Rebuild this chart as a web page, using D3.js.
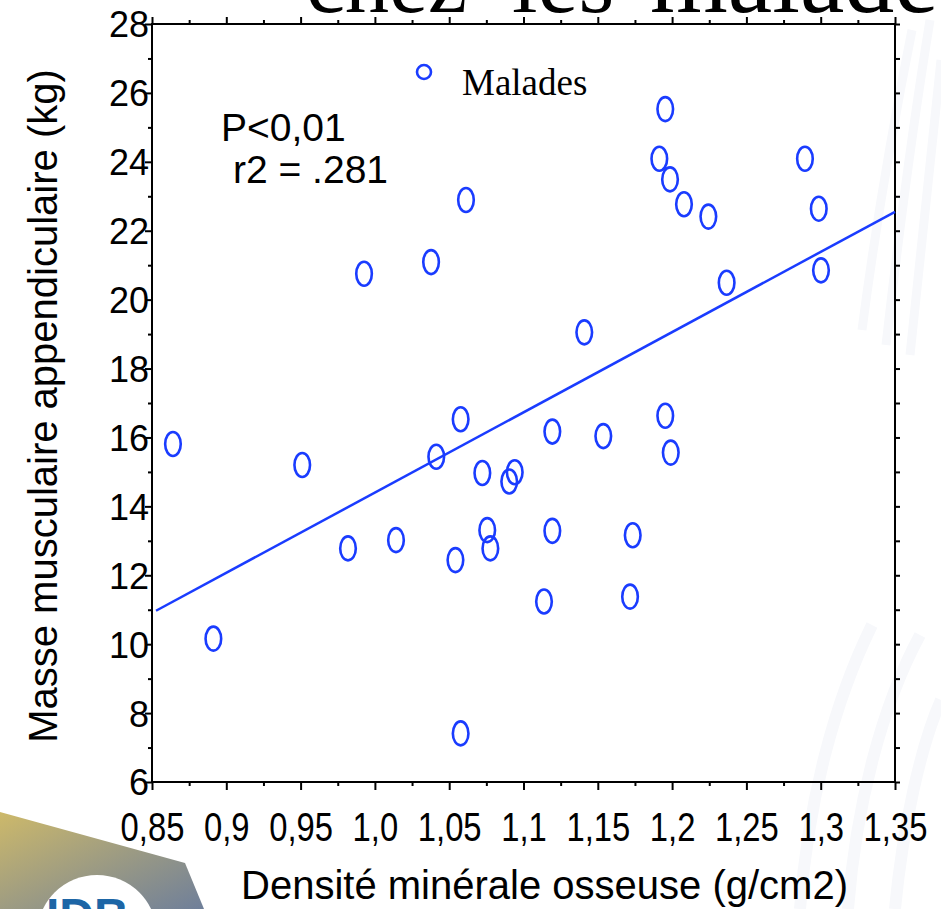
<!DOCTYPE html>
<html>
<head>
<meta charset="utf-8">
<script src="https://cdn.jsdelivr.net/npm/d3@7"></script>
<style>
  body { margin: 0; background: #ffffff; }
  svg { display: block; }
</style>
</head>
<body>
<div id="chart"></div>
<script>
// densité minérale osseuse (g/cm2) vs masse musculaire appendiculaire (kg), malades
var bmd = [1.1954, 1.1914, 1.2894, 1.1986, 1.0613, 1.2080, 1.2244, 1.2987, 1.0378, 0.9927,
           1.3002, 1.2367, 1.1409, 0.8641, 1.0577, 1.1954, 1.1194, 1.1537, 1.1991, 1.0413,
           0.9511, 1.0723, 1.0941, 1.0904, 1.0756, 1.0777, 1.1194, 1.1735, 1.0142, 0.9819,
           1.0542, 1.1138, 1.1717, 0.8913, 1.0577];
var muscle = [25.53, 24.09, 24.09, 23.49, 22.89, 22.77, 22.41, 22.64, 21.09, 20.75,
              20.85, 20.49, 19.05, 15.81, 16.53, 16.63, 16.17, 16.04, 15.56, 15.44,
              15.20, 14.97, 14.99, 14.72, 13.31, 12.78, 13.29, 13.16, 13.02, 12.78,
              12.44, 11.24, 11.38, 10.16, 7.41];

// droite de régression
var fitX = [0.8527, 1.35];
var fitY = [10.97, 22.55];

var xTicks = [0.85, 0.9, 0.95, 1.0, 1.05, 1.1, 1.15, 1.2, 1.25, 1.3, 1.35];
var xTickLabels = ['0,85', '0,9', '0,95', '1,0', '1,05', '1,1', '1,15', '1,2', '1,25', '1,3', '1,35'];
var yTicks = [6, 8, 10, 12, 14, 16, 18, 20, 22, 24, 26, 28];
var yTicksAll = [6, 7, 8, 9, 10, 11, 12, 13, 14, 15, 16, 17, 18, 19, 20, 21, 22, 23, 24, 25, 26, 27, 28];

var titleWords = ['chez', 'les', 'malades'];

(function() {
  var blue = '#1a3cff';
  var width = 941, height = 909;
  var plotLeft = 152, plotRight = 895, plotTop = 24, plotBottom = 782;

  var svg = d3.select('#chart')
    .append('svg')
    .attr('width', width)
    .attr('height', height);

  // fond : filigrane et logo
  var defs = svg.append('defs');
  var grad = defs.append('linearGradient')
    .attr('id', 'logo-grad')
    .attr('x1', '0%').attr('y1', '0%')
    .attr('x2', '100%').attr('y2', '100%');
  grad.append('stop').attr('offset', '0%').attr('stop-color', '#cdb96a');
  grad.append('stop').attr('offset', '100%').attr('stop-color', '#6f7f9a');

  var bg = svg.append('g').attr('class', 'background');
  bg.append('path')
    .attr('d', 'M912,30 C892,130 875,230 862,330 M930,20 C912,130 898,240 886,345 M941,60 C930,160 920,260 910,355')
    .attr('fill', 'none')
    .attr('stroke', '#f7f8fb')
    .attr('stroke-width', 9);
  bg.append('path')
    .attr('d', 'M800,909 C808,800 835,700 872,625 M848,909 C856,805 882,705 920,635 M895,909 C903,825 921,745 941,700')
    .attr('fill', 'none')
    .attr('stroke', '#f7f8fb')
    .attr('stroke-width', 12);

  bg.append('path')
    .attr('d', 'M0,812 L185,863 L204,909 L0,909 Z')
    .attr('fill', 'url(#logo-grad)');
  bg.append('circle')
    .attr('cx', 97).attr('cy', 935).attr('r', 60)
    .attr('fill', '#ffffff');
  bg.append('text')
    .attr('x', 46).attr('y', 932)
    .attr('font-family', 'Liberation Sans, Arial, sans-serif')
    .attr('font-weight', 'bold')
    .attr('font-size', 48)
    .attr('fill', '#1d66a6')
    .text('IDB');

  // titre de la diapo, coupé en haut
  var titleX = [306, 512, 650];
  var titleSize = [88, 92, 100];
  svg.append('g')
    .selectAll('text')
    .data(titleWords)
    .enter()
    .append('text')
    .attr('x', function(d, i) { return titleX[i]; })
    .attr('y', 12)
    .attr('font-family', 'Liberation Serif, Times New Roman, serif')
    .attr('font-size', function(d, i) { return titleSize[i]; })
    .attr('fill', '#000')
    .text(function(d) { return d; });

  var x = d3.scaleLinear().domain([0.85, 1.35]).range([plotLeft, plotRight]);
  var y = d3.scaleLinear().domain([6, 28]).range([plotBottom, plotTop]);

  var xMinor = xTicks.slice(1).map(function(v, i) { return (v + xTicks[i]) / 2; });
  var yMinor = yTicksAll.filter(function(v) { return yTicks.indexOf(v) == -1; });

  var styleAxis = function(g) {
    g.select('.domain').remove();
    g.selectAll('.tick line').attr('stroke', '#000').attr('stroke-width', 2);
  };

  // axe du bas
  svg.append('g')
    .attr('transform', 'translate(0,' + plotBottom + ')')
    .call(d3.axisBottom(x).tickValues(xMinor).tickSize(4).tickFormat(''))
    .call(styleAxis);
  var xAxis = svg.append('g')
    .attr('transform', 'translate(0,' + plotBottom + ')')
    .call(d3.axisBottom(x).tickValues(xTicks).tickSize(8).tickFormat(function(d, i) { return xTickLabels[i]; }))
    .call(styleAxis);
  xAxis.selectAll('.tick text')
    .attr('y', 59)
    .attr('dy', null)
    .attr('transform', 'scale(0.82,1)')
    .attr('fill', '#000')
    .attr('font-family', 'Liberation Sans, Arial, sans-serif')
    .attr('font-size', 40);

  // axe du haut
  svg.append('g')
    .attr('transform', 'translate(0,' + plotTop + ')')
    .call(d3.axisTop(x).tickValues(xMinor).tickSize(4).tickFormat(''))
    .call(styleAxis);
  svg.append('g')
    .attr('transform', 'translate(0,' + plotTop + ')')
    .call(d3.axisTop(x).tickValues(xTicks).tickSize(7).tickFormat(''))
    .call(styleAxis);

  // axe de gauche
  svg.append('g')
    .attr('transform', 'translate(' + plotLeft + ',0)')
    .call(d3.axisLeft(y).tickValues(yMinor).tickSize(4).tickFormat(''))
    .call(styleAxis);
  var yAxis = svg.append('g')
    .attr('transform', 'translate(' + plotLeft + ',0)')
    .call(d3.axisLeft(y).tickValues(yTicks).tickSize(7))
    .call(styleAxis);
  yAxis.selectAll('.tick text')
    .attr('x', -3)
    .attr('dy', '0.36em')
    .attr('fill', '#000')
    .attr('font-family', 'Liberation Sans, Arial, sans-serif')
    .attr('font-size', 36);

  // axe de droite
  svg.append('g')
    .attr('transform', 'translate(' + plotRight + ',0)')
    .call(d3.axisRight(y).tickValues(yTicksAll).tickSize(5).tickFormat(''))
    .call(styleAxis);

  // cadre
  svg.append('rect')
    .attr('x', plotLeft).attr('y', plotTop)
    .attr('width', plotRight - plotLeft).attr('height', plotBottom - plotTop)
    .attr('fill', 'none')
    .attr('stroke', '#000')
    .attr('stroke-width', 2);

  // titres des axes
  svg.append('text')
    .attr('x', (plotLeft + plotRight) / 2 + 21).attr('y', 899)
    .attr('text-anchor', 'middle')
    .attr('font-family', 'Liberation Sans, Arial, sans-serif')
    .attr('font-size', 40)
    .attr('fill', '#000')
    .text('Densité minérale osseuse (g/cm2)');

  svg.append('text')
    .attr('transform', 'translate(57,406) rotate(-90)')
    .attr('text-anchor', 'middle')
    .attr('font-family', 'Liberation Sans, Arial, sans-serif')
    .attr('font-size', 40)
    .attr('fill', '#000')
    .text('Masse musculaire appendiculaire (kg)');

  // droite de régression
  var line = d3.line()
    .x(function(d) { return x(d[0]); })
    .y(function(d) { return y(d[1]); });
  svg.append('path')
    .datum(d3.zip(fitX, fitY))
    .attr('d', line)
    .attr('fill', 'none')
    .attr('stroke', blue)
    .attr('stroke-width', 2.5);

  // points
  svg.append('g')
    .selectAll('ellipse')
    .data(d3.zip(bmd, muscle))
    .enter()
    .append('ellipse')
    .attr('cx', function(d) { return x(d[0]); })
    .attr('cy', function(d) { return y(d[1]); })
    .attr('rx', 7.8)
    .attr('ry', 12)
    .attr('fill', 'none')
    .attr('stroke', blue)
    .attr('stroke-width', 2.6);

  // légende et statistiques
  svg.append('circle')
    .attr('cx', 424).attr('cy', 72).attr('r', 7)
    .attr('fill', 'none')
    .attr('stroke', blue)
    .attr('stroke-width', 2.6);
  svg.append('text')
    .attr('x', 462).attr('y', 95)
    .attr('font-family', 'Liberation Serif, Times New Roman, serif')
    .attr('font-size', 37)
    .attr('fill', '#000')
    .text('Malades');

  svg.append('text')
    .attr('x', 221).attr('y', 141)
    .attr('font-family', 'Liberation Sans, Arial, sans-serif')
    .attr('font-size', 39)
    .attr('fill', '#000')
    .text('P<0,01');
  svg.append('text')
    .attr('x', 233).attr('y', 183)
    .attr('font-family', 'Liberation Sans, Arial, sans-serif')
    .attr('font-size', 39)
    .attr('fill', '#000')
    .attr('xml:space', 'preserve')
    .text('r2 = .281');
})();
</script>
</body>
</html>
